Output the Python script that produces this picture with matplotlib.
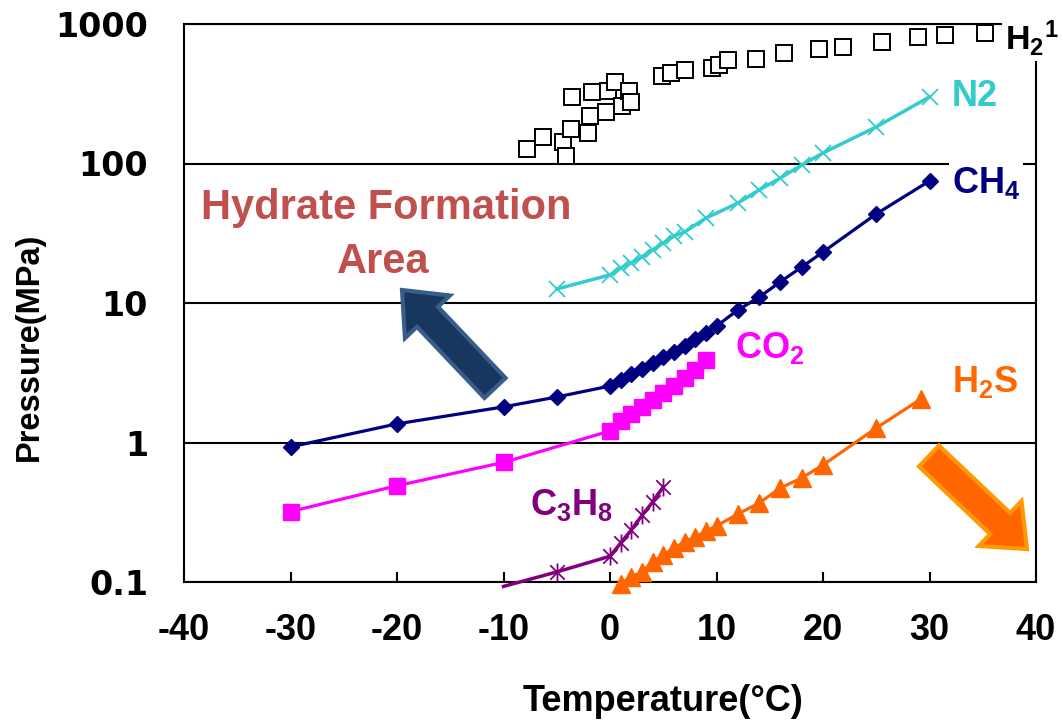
import matplotlib
matplotlib.use("Agg")
import matplotlib.pyplot as plt
from matplotlib.path import Path
from matplotlib.patches import FancyArrow
from matplotlib.ticker import NullLocator

plt.rcParams['font.family'] = ['Liberation Sans', 'DejaVu Sans']
plt.rcParams['mathtext.fontset'] = 'custom'
plt.rcParams['mathtext.rm'] = 'Liberation Sans:bold'
plt.rcParams['mathtext.it'] = 'Liberation Sans:bold'
plt.rcParams['mathtext.bf'] = 'Liberation Sans:bold'

# ---- hydrate equilibrium data (temperature in degC, pressure in MPa) ----
h2_temp = [-7.8, -6.3, -4.4, -4.1, -3.7, -3.6, -2.1, -1.9, -1.7, -0.4, -0.2,
           0.5, 1.1, 1.8, 2.0, 4.9, 5.7, 7.0, 9.6, 10.2, 11.1, 13.7, 16.3,
           19.6, 21.9, 25.5, 28.9, 31.5, 35.2]
h2_pres = [127, 155, 143, 113, 177, 300, 166, 219, 326, 234, 331,
           384, 258, 331, 276, 424, 446, 468, 484, 508, 552, 561, 619,
           662, 684, 743, 807, 834, 861]

n2_temp = [-5, 0, 1, 2, 3, 4, 5, 6, 7, 9, 12, 14, 16, 18, 20, 25, 30]
n2_pres = [12.6, 15.9, 17.8, 19.4, 21.4, 24.0, 26.9, 30.2, 32.3, 40.6,
           52, 64.6, 78.7, 97.5, 119, 183, 300]

ch4_temp = [-30, -20, -10, -5, 0, 1, 2, 3, 4, 5, 6, 7, 8, 9, 10, 12, 14,
            16, 18, 20, 25, 30]
ch4_pres = [0.93, 1.36, 1.80, 2.12, 2.54, 2.81, 3.10, 3.36, 3.72, 4.10,
            4.45, 4.92, 5.52, 6.10, 6.84, 8.9, 11.0, 14.2, 18.1, 23.2,
            43.5, 75]

co2_temp = [-30, -20, -10, 0, 1, 2, 3, 4, 5, 6, 7, 8, 9]
co2_pres = [0.32, 0.49, 0.72, 1.21, 1.43, 1.60, 1.79, 2.02, 2.26, 2.54,
            2.90, 3.31, 3.90]

c3h8_temp = [-10, -5, 0, 1, 2, 3, 4, 5]
c3h8_pres = [0.093, 0.118, 0.153, 0.19, 0.236, 0.30, 0.374, 0.48]

h2s_temp = [1, 2, 3, 4, 5, 6, 7, 8, 9, 10, 12, 14, 16, 18, 20, 25, 29.2]
h2s_pres = [0.097, 0.109, 0.118, 0.139, 0.156, 0.175, 0.194, 0.210,
            0.232, 0.252, 0.307, 0.368, 0.472, 0.557, 0.690, 1.27, 2.05]

x_ticks = [-40, -30, -20, -10, 0, 10, 20, 30, 40]
y_ticks = [0.1, 1, 10, 100, 1000]
y_tick_labels = ['0.1', '1', '10', '100', '1000']

W, H = 1063, 724
fig = plt.figure(figsize=(W / 100, H / 100), dpi=100)
ax = fig.add_axes([184 / W, 142 / H, 852 / W, 558 / H])

ax.set_yscale('log')
ax.set_xlim(-40, 40)
ax.set_ylim(0.1, 1000)

# H2: open squares only
ax.plot(h2_temp, h2_pres, ls='none', marker='s', ms=11, mfc='white',
        mec='black', mew=1.4, zorder=4)

# N2
ax.plot(n2_temp, n2_pres, color='#33CCCC', lw=2.5, marker='x', ms=11,
        mew=1.3, zorder=4)

# CH4
ax.plot(ch4_temp, ch4_pres, color='#000080', lw=2.3, marker='D', ms=8.5,
        zorder=4)

# CO2
ax.plot(co2_temp, co2_pres, color='#FF00FF', lw=2.3, marker='s', ms=11,
        zorder=4)

# C3H8 with asterisk markers
M, L = Path.MOVETO, Path.LINETO
asterisk = Path([(0, -1), (0, 1), (-0.8, -0.8), (0.8, 0.8),
                 (-0.8, 0.8), (0.8, -0.8)], [M, L, M, L, M, L])
ax.plot(c3h8_temp, c3h8_pres, color='#800080', lw=2.5, marker=asterisk,
        ms=13, mew=1.3, markevery=list(range(1, len(c3h8_temp))),
        clip_on=False, zorder=4)

# H2S
ax.plot(h2s_temp, h2s_pres, color='#FF6600', lw=2.3, marker='^', ms=13,
        clip_on=False, zorder=4)

# axes styling
ax.yaxis.set_minor_locator(NullLocator())
ax.set_yticks(y_ticks)
ax.set_yticklabels(y_tick_labels, fontfamily='DejaVu Sans',
                   fontweight='bold', fontsize=24)
ax.set_xticks(x_ticks)
ax.set_xticklabels([str(t) for t in x_ticks], fontweight='bold',
                   fontsize=26)
ax.tick_params(axis='y', length=0, pad=26)
ax.tick_params(axis='x', direction='in', length=7, width=1.5, pad=22)
ax.yaxis.grid(True, color='black', lw=1.5)
ax.set_axisbelow(True)
for side in ['left', 'right', 'top', 'bottom']:
    ax.spines[side].set_linewidth(1.5)

ax.set_xlabel('Temperature(°C)', fontsize=26, fontweight='bold')
ax.xaxis.label.set_va('center')
ax.xaxis.set_label_coords(0.562, -0.215)
ax.set_ylabel('Pressure(MPa)', fontsize=23.5, fontweight='bold')
ax.yaxis.label.set_va('center')
ax.yaxis.set_label_coords(-0.181, 0.421)

# series labels
box = dict(facecolor='white', edgecolor='none', pad=2)
lab = dict(fontsize=26, fontweight='bold', va='center', ha='left',
           clip_on=False, zorder=6)
ax.text(37.1, 794, 'H$_2$$^1$', color='black', bbox=box,
        **{**lab, 'fontsize': 24.5})
ax.text(32.1, 300, 'N2', color='#33CCCC', **lab)
ax.text(32.1, 72.4, 'CH$_4$', color='#000080', bbox=box, **lab)
ax.text(11.7, 4.75, 'CO$_2$', color='#FF00FF', **lab)
ax.text(32.1, 2.72, 'H$_2$S', color='#FF6600', **lab)
ax.text(-7.5, 0.356, 'C$_3$H$_8$', color='#800080', **lab)

ax.text(-21.0, 48, 'Hydrate Formation', color='#C0504D', fontsize=30,
        fontweight='bold', ha='center', va='center')
ax.text(-21.3, 19.7, 'Area', color='#C0504D', fontsize=30,
        fontweight='bold', ha='center', va='center')

# direction arrows (figure inches)
def px(x, y):
    return x / 100, (H - y) / 100

x0, y0 = px(495, 388)
x1, y1 = px(402, 290)
fig.add_artist(FancyArrow(x0, y0, x1 - x0, y1 - y0, width=0.29,
                          head_width=0.62, head_length=0.37,
                          length_includes_head=True, fc='#17375E',
                          ec='#385D8A', lw=3, transform=fig.dpi_scale_trans,
                          zorder=7))
x0, y0 = px(929, 456)
x1, y1 = px(1027, 549)
fig.add_artist(FancyArrow(x0, y0, x1 - x0, y1 - y0, width=0.29,
                          head_width=0.62, head_length=0.37,
                          length_includes_head=True, fc='#FF6600',
                          ec='#FF9900', lw=3, transform=fig.dpi_scale_trans,
                          zorder=7))

fig.savefig('out.png', dpi=100, facecolor='white')
